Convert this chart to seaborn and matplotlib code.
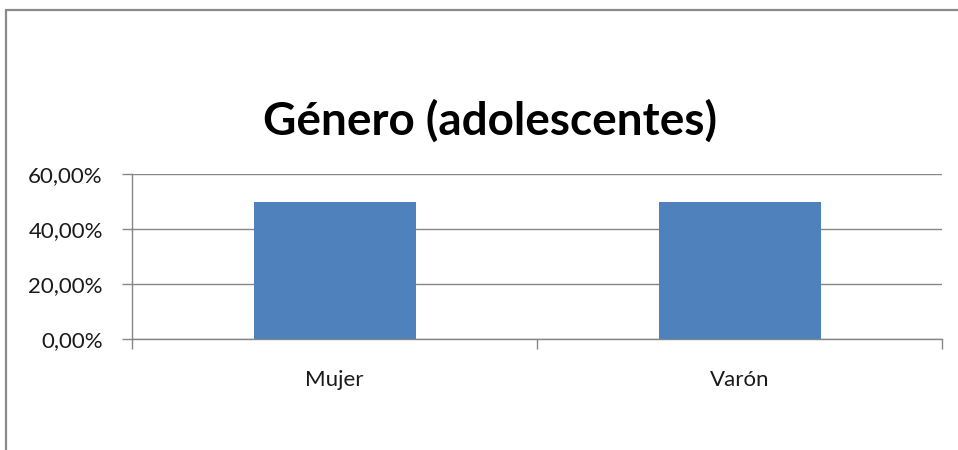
import matplotlib
matplotlib.use("Agg")
import matplotlib.pyplot as plt
import seaborn as sns
import pandas as pd
from matplotlib.ticker import FuncFormatter, FixedLocator, MultipleLocator
from matplotlib.lines import Line2D

categories = ["Mujer", "Varón"]
values = [0.50, 0.50]
title = "Género (adolescentes)"

sns.set_style("white")
plt.rcParams['font.family'] = ['Lato', 'DejaVu Sans']

df = pd.DataFrame({"cat": categories, "val": values})

fig = plt.figure(figsize=(9.58, 4.5), dpi=100)
ax = fig.add_axes([132/958, 1-339/450, (942-132)/958, (339-174)/450])

sns.barplot(data=df, x="cat", y="val", color="#4F81BD", width=0.4,
            saturation=1, ax=ax, zorder=3, linewidth=0)

grid_c = "#868686"
ax.set_ylim(0, 0.6)
ax.set_xlim(-0.5, 1.5)
ax.yaxis.set_major_locator(MultipleLocator(0.2))
ax.yaxis.set_major_formatter(FuncFormatter(lambda v, p: f"{v*100:.2f}%".replace(".", ",")))
ax.grid(axis="y", color=grid_c, linewidth=1.0, zorder=0)
ax.set_axisbelow(True)

for s in ["top", "right"]:
    ax.spines[s].set_visible(False)
for s in ["left", "bottom"]:
    ax.spines[s].set_color(grid_c)
    ax.spines[s].set_linewidth(1.0)

ax.tick_params(axis="y", which="major", length=7, width=1, color=grid_c,
               labelsize=16, labelcolor="#1a1a1a", pad=14, left=True)
ax.xaxis.set_minor_locator(FixedLocator([-0.5, 0.5, 1.5]))
ax.tick_params(axis="x", which="major", length=0, labelsize=16,
               labelcolor="#1a1a1a", pad=22)
ax.tick_params(axis="x", which="minor", length=7, width=1, color=grid_c,
               bottom=True)
ax.set_xlabel("")
ax.set_ylabel("")

fig.text(490/958, 1-121/450, title, ha="center", va="center",
         fontsize=33, fontweight="bold", color="#000000")

# chart frame (left and top edges visible)
border_c = "#8a8a8a"
fig.add_artist(Line2D([6/958, 6/958], [0, 1-10/450], color=border_c, linewidth=1.6,
                      transform=fig.transFigure))
fig.add_artist(Line2D([6/958, 1], [1-10/450, 1-10/450], color=border_c, linewidth=1.6,
                      transform=fig.transFigure))

fig.savefig("out.png", dpi=100)
